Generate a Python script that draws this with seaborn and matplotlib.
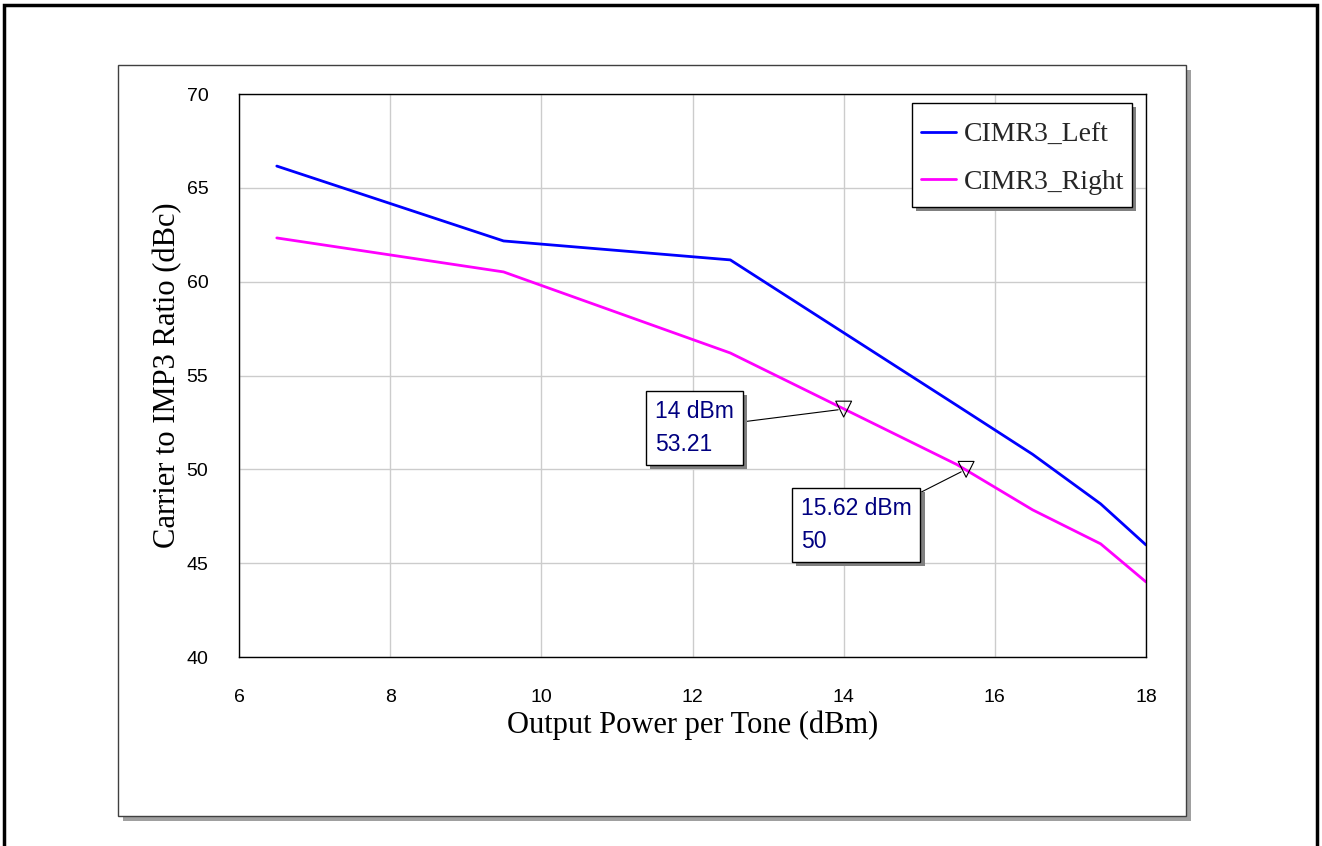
import matplotlib
matplotlib.use("Agg")
import matplotlib.pyplot as plt
import matplotlib.patheffects as pe
from matplotlib.patches import Rectangle
import numpy as np
import pandas as pd
import seaborn as sns

# ---- data ----
power_dbm = [6.5, 9.5, 12.5, 15.5, 16.5, 17.4, 18.0]
cimr3_left = [66.16, 62.17, 61.16, 53.4, 50.8, 48.16, 45.97]
cimr3_right = [62.33, 60.52, 56.2, 50.25, 47.84, 46.03, 44.0]
series_names = ["CIMR3_Left", "CIMR3_Right"]
marker_x = [14.0, 15.62]
marker_y = [53.21, 50.0]
marker_labels = ["14 dBm\n53.21", "15.62 dBm\n50"]
x_ticks = [6, 8, 10, 12, 14, 16, 18]
y_ticks = [40, 45, 50, 55, 60, 65, 70]

df = pd.DataFrame({
    "x": power_dbm * 2,
    "y": cimr3_left + cimr3_right,
    "series": [series_names[0]] * len(power_dbm) + [series_names[1]] * len(power_dbm),
})

sns.set_theme(style="whitegrid")
plt.rcParams["font.family"] = ["Liberation Sans", "DejaVu Sans"]

W, H = 1322, 846
fig = plt.figure(figsize=(W / 100, H / 100), dpi=100)
fig.patch.set_facecolor("white")

def fx(px):
    return px / W

def fy(py):
    return 1 - py / H

# outer black frame
fig.patches.append(Rectangle((fx(4), fy(850)), fx(1317) - fx(4), fy(5) - fy(850),
                             transform=fig.transFigure, fill=False, edgecolor="black",
                             linewidth=2.5, zorder=-3))
# panel shadow + panel
fig.patches.append(Rectangle((fx(123), fy(821)), fx(1191) - fx(123), fy(70) - fy(821),
                             transform=fig.transFigure, facecolor="#a0a0a0",
                             edgecolor="none", zorder=-2))
fig.patches.append(Rectangle((fx(118), fy(816)), fx(1186) - fx(118), fy(65) - fy(816),
                             transform=fig.transFigure, facecolor="white",
                             edgecolor="#404040", linewidth=1.0, zorder=-1))

ax = fig.add_axes([fx(239), fy(657), fx(1146) - fx(239), fy(94) - fy(657)])
ax.set_zorder(1)
ax.set_facecolor("white")

sns.lineplot(data=df, x="x", y="y", hue="series",
             palette={series_names[0]: "#0000ff", series_names[1]: "#ff00ff"},
             linewidth=2.0, ax=ax, legend=True)

ax.set_xlim(6, 18)
ax.set_ylim(40, 70)
ax.set_xticks(x_ticks)
ax.set_yticks(y_ticks)
ax.set_xticklabels([str(t) for t in x_ticks], fontsize=14)
ax.set_yticklabels([str(t) for t in y_ticks], fontsize=14)
ax.tick_params(axis="both", length=0, colors="black")
ax.tick_params(axis="x", pad=23)
ax.tick_params(axis="y", pad=22)
ax.grid(True, color="#cccccc", linewidth=1.0)
for s in ax.spines.values():
    s.set_visible(True)
    s.set_color("black")
    s.set_linewidth(1.0)

ax.set_xlabel("Output Power per Tone (dBm)", family=["Liberation Serif"], fontsize=22,
              color="black", labelpad=3)
ax.set_ylabel("Carrier to IMP3 Ratio (dBc)", family=["Liberation Serif"], fontsize=22,
              color="black", labelpad=3)

# legend frame (box + shadow) drawn at the reference position
ax.add_patch(Rectangle((fx(916), fy(211)), fx(1136) - fx(916), fy(107) - fy(211),
                       transform=fig.transFigure, facecolor="#808080", edgecolor="none",
                       clip_on=False, zorder=8))
ax.add_patch(Rectangle((fx(912), fy(207)), fx(1132) - fx(912), fy(103) - fy(207),
                       transform=fig.transFigure, facecolor="white", edgecolor="black",
                       linewidth=1.0, clip_on=False, zorder=9))

leg = ax.legend(loc="upper left",
                bbox_to_anchor=(fx(921), fy(122)), bbox_transform=fig.transFigure,
                frameon=False,
                prop={"family": "Liberation Serif", "size": 20},
                handlelength=1.25, handletextpad=0.3,
                borderpad=0, labelspacing=0.8, borderaxespad=0)
leg.set_zorder(10)
for line in leg.get_lines():
    line.set_linewidth(2.0)

# markers
ax.scatter(marker_x, marker_y, marker="v", s=130, facecolors="none",
           edgecolors="black", linewidths=0.8, zorder=5)

# annotation boxes
text_pos = [(655, 400), (801, 497)]
for (mx, my, lab, (tx, ty)) in zip(marker_x, marker_y, marker_labels, text_pos):
    t = ax.annotate(lab, xy=(mx, my), xycoords="data",
                    xytext=(fx(tx), fy(ty)), textcoords="figure fraction",
                    ha="left", va="top", fontsize=16.5, color="#000080",
                    linespacing=1.55,
                    bbox=dict(boxstyle="square,pad=0.38", facecolor="white",
                              edgecolor="black", linewidth=1.0),
                    arrowprops=dict(arrowstyle="-", color="black", linewidth=0.8,
                                    shrinkA=0, shrinkB=4),
                    zorder=6)
    t.get_bbox_patch().set_path_effects([
        pe.SimplePatchShadow(offset=(3, -3), shadow_rgbFace="#808080", alpha=1),
        pe.Normal()])

fig.savefig("out.png", dpi=100, facecolor="white")
